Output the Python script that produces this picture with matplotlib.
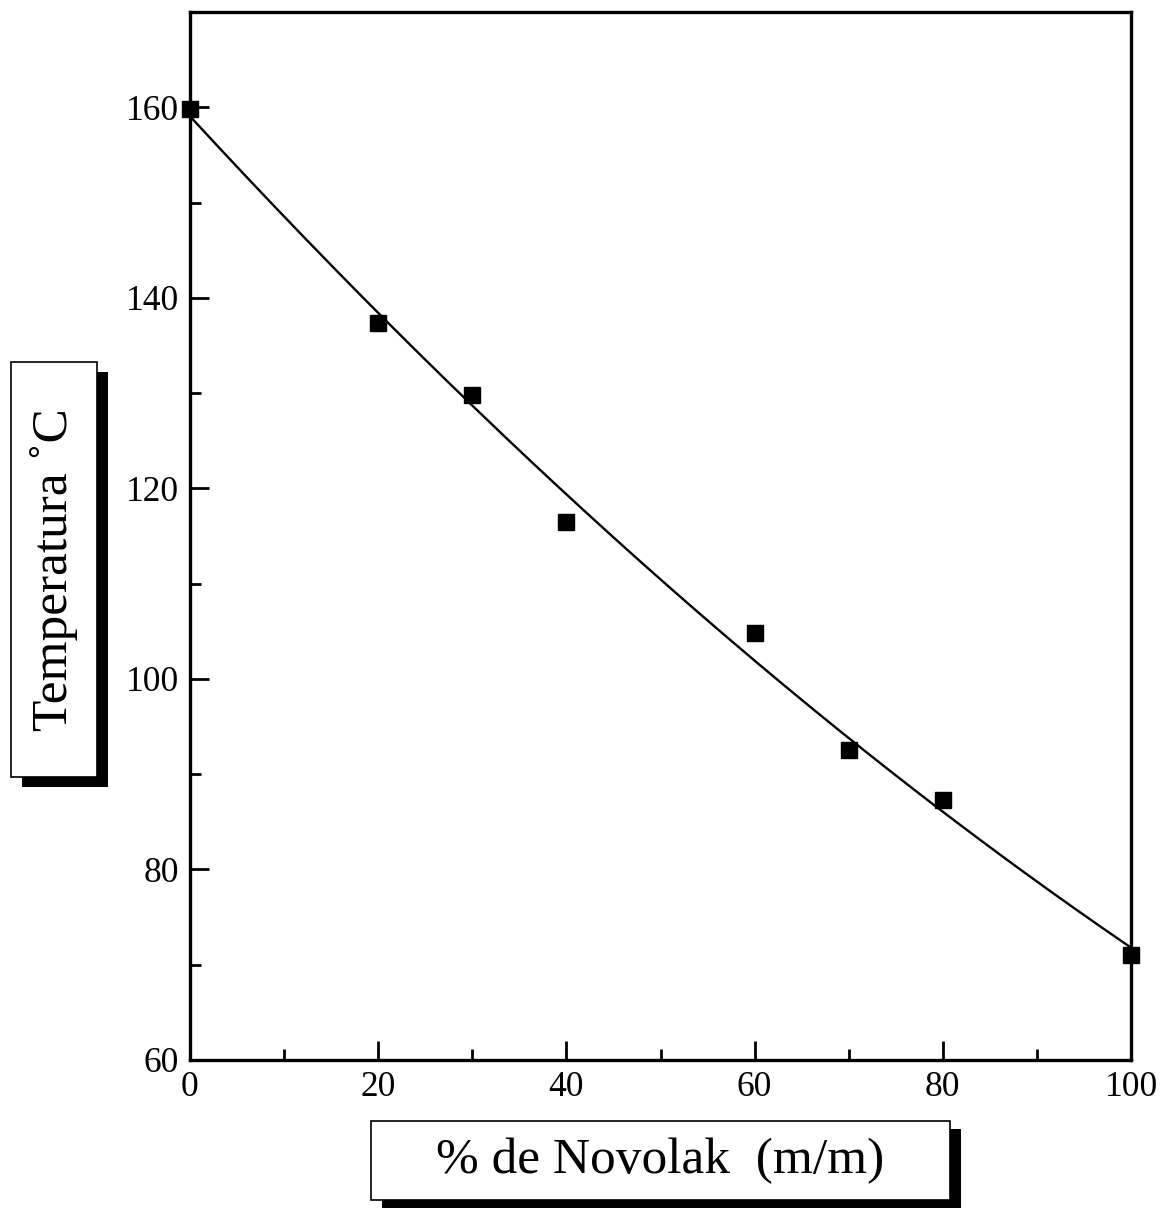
import numpy as np
import matplotlib
matplotlib.use("Agg")
from matplotlib import pyplot as plt
from matplotlib.patches import Rectangle
from matplotlib.ticker import MultipleLocator

# % de Novolak y temperatura medida
novolak = [0, 20, 30, 40, 60, 70, 80, 100]
temperatura = [159.8, 137.4, 129.8, 116.5, 104.8, 92.5, 87.3, 71.0]

W, H = 1165, 1209
plt.rcParams['font.family'] = ['Liberation Serif', 'DejaVu Serif']

fig = plt.figure(figsize=(W / 100, H / 100), dpi=100)
ax = fig.add_axes([190 / W, 1 - 1060 / H, (1131 - 190) / W, (1060 - 12) / H])

# ajuste polinomial de segundo grado
coef = np.polyfit(novolak, temperatura, 2)
xs = np.linspace(0, 100, 200)
ax.plot(xs, np.polyval(coef, xs), color='black', lw=1.7, zorder=2)
ax.plot(novolak, temperatura, 's', color='black', ms=11, zorder=3, clip_on=False)

ax.set_xlim(0, 100)
ax.set_ylim(60, 170)
ax.xaxis.set_major_locator(MultipleLocator(20))
ax.xaxis.set_minor_locator(MultipleLocator(10))
ax.yaxis.set_major_locator(MultipleLocator(20))
ax.yaxis.set_minor_locator(MultipleLocator(10))
ax.tick_params(which='both', direction='in', width=2, labelsize=25.5, top=False, right=False)
ax.tick_params(which='major', length=14, pad=8)
ax.tick_params(which='minor', length=8)
for s in ax.spines.values():
    s.set_linewidth(2.4)


def caja(x0, y0, x1, y1, dx, dy, texto, rot):
    # sombra negra y recuadro blanco, en pixeles de la figura
    fig.patches.append(Rectangle(((x0 + dx) / W, 1 - (y1 + dy) / H), (x1 - x0) / W, (y1 - y0) / H,
                                 transform=fig.transFigure, facecolor='black', edgecolor='black', lw=0))
    fig.patches.append(Rectangle((x0 / W, 1 - y1 / H), (x1 - x0) / W, (y1 - y0) / H,
                                 transform=fig.transFigure, facecolor='white', edgecolor='black', lw=1.2))
    fig.text((x0 + x1) / 2 / W, 1 - (y0 + y1) / 2 / H, texto, rotation=rot,
             ha='center', va='center', fontsize=37)


caja(11, 362, 97, 777, 11, 10, 'Temperatura ˚C', 90)
caja(371, 1121, 950, 1200, 11, 8, '% de Novolak  (m/m)', 0)

fig.savefig('out.png', dpi=100)
